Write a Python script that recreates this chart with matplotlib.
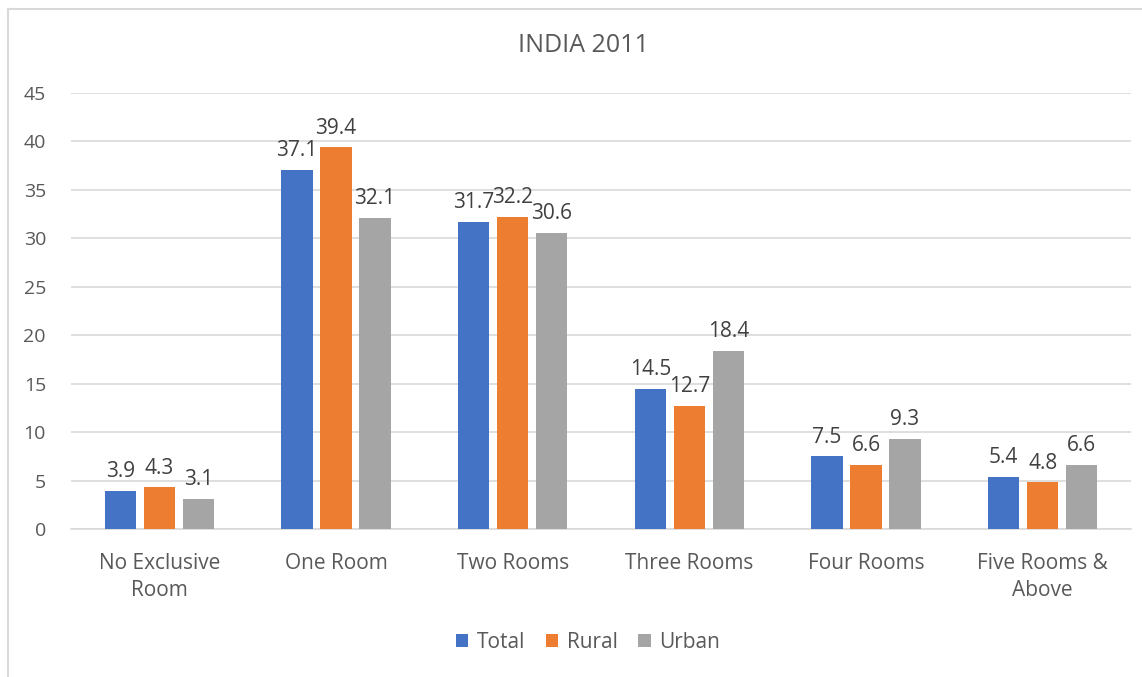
import matplotlib.pyplot as plt
import numpy as np
from matplotlib.lines import Line2D

categories = ["No Exclusive\nRoom", "One Room", "Two Rooms", "Three Rooms", "Four Rooms", "Five Rooms &\nAbove"]
series_names = ["Total", "Rural", "Urban"]
total = [3.9, 37.1, 31.7, 14.5, 7.5, 5.4]
rural = [4.3, 39.4, 32.2, 12.7, 6.6, 4.8]
urban = [3.1, 32.1, 30.6, 18.4, 9.3, 6.6]
colors = ["#4472C4", "#ED7D31", "#A5A5A5"]
yticks = [0, 5, 10, 15, 20, 25, 30, 35, 40, 45]

plt.rcParams['font.family'] = ['Open Sans', 'DejaVu Sans']
W, H = 1142, 677
fig = plt.figure(figsize=(W/100, H/100), dpi=100)
ax = fig.add_axes([71/W, 1-529/H, (1131-71)/W, (529-93)/H])

x = np.arange(len(categories))
width = 0.176
offset = 0.221
text_color = "#595959"
for i, (vals, name) in enumerate(zip([total, rural, urban], series_names)):
    bars = ax.bar(x + (i-1)*offset, vals, width, color=colors[i], label=name, zorder=3)
    for b, v in zip(bars, vals):
        ax.text(b.get_x()+b.get_width()/2, v + 0.9, f"{v}", ha='center', va='bottom',
                fontsize=15, color="#404040")

ax.set_xlim(-0.5, len(categories)-0.5)
ax.set_ylim(0, 45)
ax.set_yticks(yticks)
ax.yaxis.grid(True, color="#D9D9D9", linewidth=1.2, zorder=0)
ax.set_axisbelow(True)
for s in ["top", "right", "left"]:
    ax.spines[s].set_visible(False)
ax.spines["bottom"].set_color("#D9D9D9")
ax.spines["bottom"].set_linewidth(1.2)
ax.tick_params(axis='x', length=0, labelsize=15, colors=text_color, pad=17)
ax.tick_params(axis='y', length=0, labelsize=14, colors=text_color, pad=18)
ax.set_xticks(x)
ax.set_xticklabels(categories, linespacing=1.4)

fig.text(583/W, 1-46/H, "INDIA 2011", ha='center', va='center', fontsize=18, color=text_color)

leg = fig.legend(loc='center', bbox_to_anchor=(588/W, 1-642/H), ncol=3, frameon=False,
                 fontsize=15, handlelength=0.6, handleheight=0.6, handletextpad=0.4,
                 columnspacing=1.0)
for t in leg.get_texts():
    t.set_color(text_color)

# chart border
fig.add_artist(Line2D([8/W, 8/W], [0, 1-9/H], color="#D9D9D9", linewidth=1.5))
fig.add_artist(Line2D([8/W, 1], [1-9/H, 1-9/H], color="#D9D9D9", linewidth=1.5))

fig.savefig("out.png", dpi=100)
